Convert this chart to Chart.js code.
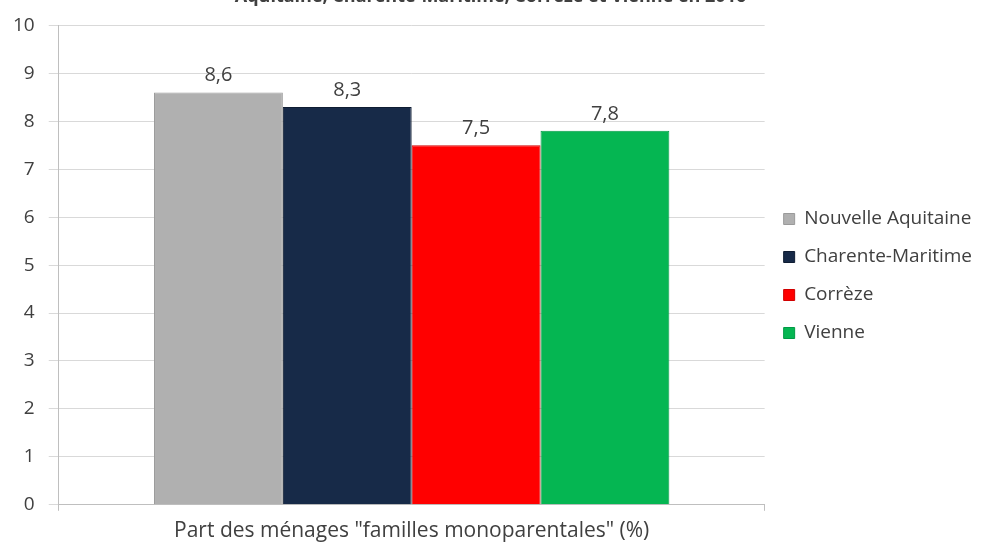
<!DOCTYPE html>
<html>
<head>
<meta charset="utf-8">
<script src="https://cdn.jsdelivr.net/npm/chart.js@4"></script>
<style>
  html, body { margin: 0; padding: 0; background: #fff; overflow: hidden; }
  #wrap { width: 998px; height: 545px; position: relative; }
</style>
</head>
<body>
<div id="wrap"><canvas id="chart" width="998" height="545"></canvas></div>
<script>
var categories = ['Part des ménages "familles monoparentales" (%)'];
var regions = ['Nouvelle Aquitaine', 'Charente-Maritime', 'Corrèze', 'Vienne'];
var values = [8.6, 8.3, 7.5, 7.8];
var colors = ['#b0b0b0', '#172a48', '#ff0000', '#05b652'];
var edges = ['#9a9a9a', '#0f1d33', '#d00000', '#009a45'];
var yTicks = [0, 1, 2, 3, 4, 5, 6, 7, 8, 9, 10];
var titleLines = ['Familles monoparentales en Nouvelle-',
                  'Aquitaine, Charente-Maritime, Corrèze et Vienne en 2016'];

// values written above each bar, French decimal comma
var barLabels = {
    id: 'barLabels',
    afterDatasetsDraw: function (chart) {
        var ctx = chart.ctx;
        ctx.save();
        ctx.font = '20px "Open Sans"';
        ctx.fillStyle = '#404040';
        ctx.textAlign = 'center';
        ctx.textBaseline = 'bottom';
        chart.data.datasets.forEach(function (ds, i) {
            chart.getDatasetMeta(i).data.forEach(function (bar, j) {
                ctx.fillText(String(ds.data[j]).replace('.', ','), bar.x, bar.y - 7);
            });
        });
        ctx.restore();
    }
};

var ctx = document.getElementById("chart").getContext('2d');
var chart = new Chart(ctx, {
    type: 'bar',
    data: {
        labels: categories,
        datasets: regions.map(function (name, i) {
            return {
                label: name,
                data: [values[i]],
                backgroundColor: colors[i],
                borderColor: edges[i],
                borderWidth: 1
            };
        })
    },
    options: {
        responsive: false,
        animation: false,
        layout: { padding: { left: -1, right: 16, bottom: -7 } },
        datasets: { bar: { categoryPercentage: 0.73, barPercentage: 1 } },
        plugins: {
            title: {
                display: true,
                text: titleLines,
                font: { family: '"Open Sans"', size: 18, weight: 'bold' },
                color: '#404040',
                padding: { top: -38, bottom: 18 }
            },
            legend: {
                position: 'right',
                labels: {
                    font: { family: '"Open Sans"', size: 19 },
                    color: '#404040',
                    boxWidth: 11,
                    boxHeight: 11,
                    padding: 19
                }
            },
            tooltip: { enabled: false }
        },
        scales: {
            x: {
                grid: { drawOnChartArea: false, color: '#bfbfbf', tickLength: 6 },
                border: { color: '#bfbfbf' },
                ticks: { font: { family: '"Open Sans"', size: 21 }, color: '#404040', padding: 8 }
            },
            y: {
                min: 0,
                max: 10,
                afterBuildTicks: function (axis) {
                    axis.ticks = yTicks.map(function (v) { return { value: v }; });
                },
                grid: { color: '#d9d9d9', tickLength: 10 },
                border: { color: '#bfbfbf' },
                ticks: { font: { family: '"Open Sans"', size: 19 }, color: '#404040', padding: 14 }
            }
        }
    },
    plugins: [barLabels]
});
</script>
</body>
</html>
